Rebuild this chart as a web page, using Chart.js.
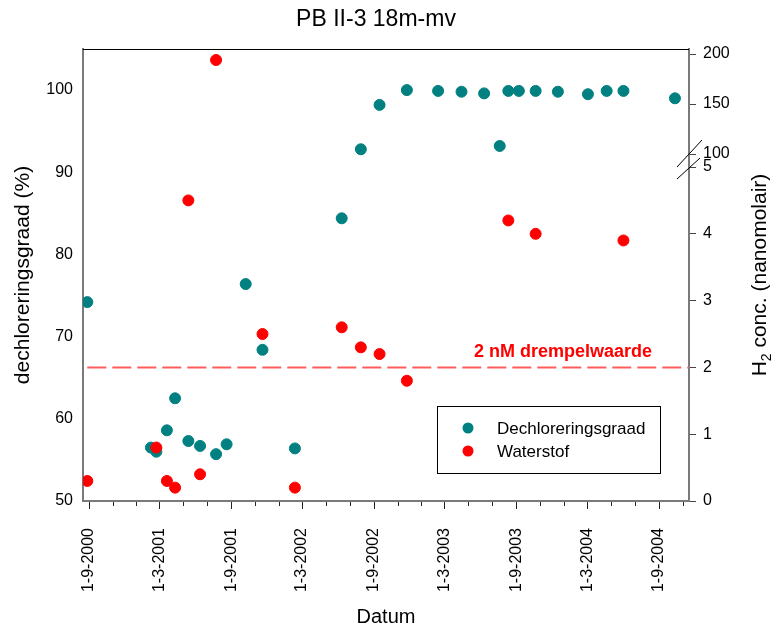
<!DOCTYPE html>
<html>
<head>
<meta charset="utf-8">
<script src="https://cdn.jsdelivr.net/npm/chart.js@4.4.1/dist/chart.umd.min.js"></script>
<style>
  html, body { margin: 0; padding: 0; background: #fff; }
</style>
</head>
<body>
<canvas id="chart" width="772" height="626"></canvas>
<script>
// Dechloreringsgraad (%)
const dechlorDates = [
  '2000-08-28', '2001-02-07', '2001-02-21', '2001-03-20', '2001-04-10', '2001-05-14',
  '2001-06-13', '2001-07-24', '2001-08-20', '2001-10-08', '2001-11-20', '2002-02-11',
  '2002-06-11', '2002-07-30', '2002-09-16', '2002-11-25', '2003-02-13', '2003-04-14',
  '2003-06-11', '2003-07-21', '2003-08-12', '2003-09-08', '2003-10-21', '2003-12-17',
  '2004-03-03', '2004-04-20', '2004-06-02', '2004-10-12'
]
const dechlorValues = [
  74.2, 56.5, 56.0, 58.6, 62.5, 57.3,
  56.7, 55.7, 56.9, 76.4, 68.4, 56.4,
  84.4, 92.8, 98.2, 100.0, 99.9, 99.8,
  99.6, 93.2, 99.9, 99.9, 99.9, 99.8,
  99.5, 99.9, 99.9, 99.0
]

// Waterstof (nM)
const h2Dates = [
  '2000-08-28', '2001-02-21', '2001-03-20', '2001-04-10', '2001-05-14', '2001-06-13',
  '2001-07-24', '2001-11-20', '2002-02-11', '2002-06-11', '2002-07-30', '2002-09-16',
  '2002-11-25', '2003-08-12', '2003-10-21', '2004-06-02'
]
const h2Values = [
  0.3, 0.8, 0.3, 0.2, 4.5, 0.4,
  194, 2.5, 0.2, 2.6, 2.3, 2.2,
  1.8, 4.2, 4.0, 3.9
]

const threshold = 2
const thresholdFrom = '2000-08-28'
const xStart = '2000-08-17'
const xEnd = '2004-11-17'

const pctTicks = [50, 60, 70, 80, 90, 100]
const h2LowTicks = [0, 1, 2, 3, 4, 5]
const h2HighTicks = [100, 150, 200]
const labelMonths = [3, 9]

const TEAL = '#008080'
const RED = '#ff0000'
const FONT = '"Liberation Sans", Arial, sans-serif'

const t = s => Date.parse(s)
const breakValue = h2LowTicks[h2LowTicks.length - 1]

const dechlorPoints = dechlorDates.map((d, i) => ({ x: t(d), y: dechlorValues[i] }))
const h2Low = [], h2High = []
h2Dates.forEach((d, i) => {
  const p = { x: t(d), y: h2Values[i] }
  if (h2Values[i] > breakValue) h2High.push(p)
  else h2Low.push(p)
})

// ticks every two months, labels on march and september
function monthTicks() {
  const ticks = []
  const start = new Date(t(xStart)), end = t(xEnd)
  let y = start.getUTCFullYear(), m = start.getUTCMonth() + 1
  while (true) {
    const v = Date.UTC(y, m, 1)
    if (v > end) break
    if (m % 2 === 0) ticks.push({ value: v })
    m++
    if (m > 11) { m = 0; y++ }
  }
  return ticks
}

const decorations = {
  id: 'decorations',
  afterDraw(chart) {
    const { ctx, chartArea: area, scales } = chart
    const xs = scales.x, low = scales.h2low, high = scales.h2high
    ctx.save()

    // title
    ctx.fillStyle = '#000'
    ctx.font = '23px ' + FONT
    ctx.textAlign = 'center'
    ctx.textBaseline = 'middle'
    ctx.fillText('PB II-3 18m-mv', 376, 20)

    // top frame
    ctx.strokeStyle = '#000'
    ctx.lineWidth = 1
    ctx.beginPath()
    ctx.moveTo(area.left, area.top + 0.5)
    ctx.lineTo(area.right, area.top + 0.5)
    ctx.stroke()

    // x tick marks
    ctx.strokeStyle = '#222'
    xs.ticks.forEach(tk => {
      const px = Math.round(xs.getPixelForValue(tk.value)) + 0.5
      const len = tk.label ? 7 : 4
      ctx.beginPath()
      ctx.moveTo(px, area.bottom + 1)
      ctx.lineTo(px, area.bottom + 1 + len)
      ctx.stroke()
    })

    // axis break marks
    const bx = high.left
    const y1 = high.getPixelForValue(h2HighTicks[0])
    const y2 = low.getPixelForValue(breakValue)
    ctx.strokeStyle = '#000'
    ctx.lineWidth = 1
    ctx.beginPath()
    ctx.moveTo(bx - 12, y1 + 13); ctx.lineTo(bx + 13, y1 - 14)
    ctx.moveTo(bx - 12, y2 + 12); ctx.lineTo(bx + 11, y2 - 9)
    ctx.stroke()

    // threshold label
    ctx.fillStyle = RED
    ctx.font = 'bold 18px ' + FONT
    ctx.textAlign = 'right'
    ctx.textBaseline = 'middle'
    ctx.fillText('2 nM drempelwaarde', area.right - 37, low.getPixelForValue(threshold) - 15)

    // legend
    const lx = area.right - 252, ly = area.bottom - 95
    ctx.strokeStyle = '#000'
    ctx.lineWidth = 1
    ctx.strokeRect(lx + 0.5, ly + 0.5, 223, 67)
    const items = [['Dechloreringsgraad', TEAL], ['Waterstof', RED]]
    ctx.font = '17px ' + FONT
    ctx.textAlign = 'left'
    items.forEach(([label, color], i) => {
      const cy = ly + 22 + i * 23
      ctx.fillStyle = color
      ctx.beginPath()
      ctx.arc(lx + 31, cy, 5.5, 0, Math.PI * 2)
      ctx.fill()
      ctx.fillStyle = '#000'
      ctx.fillText(label, lx + 60, cy + 1)
    })

    // right axis title with subscript
    ctx.translate(760, (area.top + area.bottom) / 2)
    ctx.rotate(-Math.PI / 2)
    ctx.fillStyle = '#000'
    ctx.textBaseline = 'middle'
    const partA = 'H', partC = ' conc. (nanomolair)'
    ctx.font = '14px ' + FONT
    const wSub = ctx.measureText('2').width
    ctx.font = '21px ' + FONT
    const wA = ctx.measureText(partA).width
    const wC = ctx.measureText(partC).width
    const sx = -(wA + wSub + wC) / 2
    ctx.textAlign = 'left'
    ctx.fillText(partA, sx, 0)
    ctx.font = '14px ' + FONT
    ctx.fillText('2', sx + wA, 7)
    ctx.font = '21px ' + FONT
    ctx.fillText(partC, sx + wA + wSub, 0)

    ctx.restore()
  }
}

const axisBorder = { display: true, color: '#7a7a7a', width: 2 }

new Chart(document.getElementById('chart'), {
  type: 'scatter',
  data: {
    datasets: [
      {
        label: 'Waterstof',
        data: h2Low,
        yAxisID: 'h2low',
        backgroundColor: RED,
        borderColor: RED,
        pointRadius: 5.5,
        order: 1
      },
      {
        label: 'Waterstof (hoog)',
        data: h2High,
        yAxisID: 'h2high',
        backgroundColor: RED,
        borderColor: RED,
        pointRadius: 5.5,
        order: 1
      },
      {
        label: 'Dechloreringsgraad',
        data: dechlorPoints,
        yAxisID: 'pct',
        backgroundColor: TEAL,
        borderColor: TEAL,
        pointRadius: 5.5,
        order: 2
      },
      {
        type: 'line',
        label: 'drempelwaarde',
        data: [{ x: t(thresholdFrom), y: threshold }, { x: t(xEnd), y: threshold }],
        yAxisID: 'h2low',
        borderColor: '#ff5c5c',
        borderWidth: 2,
        borderDash: [19, 6],
        pointRadius: 0,
        order: 3
      }
    ]
  },
  options: {
    responsive: false,
    animation: false,
    layout: { padding: { top: 49 } },
    plugins: {
      legend: { display: false },
      tooltip: { enabled: false },
      title: { display: false }
    },
    scales: {
      x: {
        type: 'linear',
        position: 'bottom',
        min: t(xStart),
        max: t(xEnd),
        afterBuildTicks: s => { s.ticks = monthTicks() },
        afterFit: s => { s.height = 125 },
        grid: { display: false, drawTicks: false },
        border: axisBorder,
        ticks: {
          autoSkip: false,
          minRotation: 90,
          maxRotation: 90,
          padding: 27,
          color: '#000',
          font: { family: FONT, size: 16 },
          callback: v => {
            const d = new Date(v)
            const m = d.getUTCMonth() + 1
            return labelMonths.includes(m) ? `${d.getUTCDate()}-${m}-${d.getUTCFullYear()}` : ''
          }
        },
        title: {
          display: true,
          text: 'Datum',
          color: '#000',
          font: { family: FONT, size: 20 },
          padding: { top: 0, bottom: -3 }
        }
      },
      pct: {
        type: 'linear',
        position: 'left',
        min: 50,
        max: 105,
        afterBuildTicks: s => { s.ticks = pctTicks.map(v => ({ value: v })) },
        afterFit: s => { s.width = 83 },
        grid: { display: false, drawTicks: false },
        border: axisBorder,
        ticks: { padding: 10, color: '#000', font: { family: FONT, size: 16 } },
        title: {
          display: true,
          text: 'dechloreringsgraad (%)',
          color: '#000',
          font: { family: FONT, size: 21 },
          padding: { top: 11, bottom: 0 }
        }
      },
      h2high: {
        type: 'linear',
        position: 'right',
        stack: 'h2',
        stackWeight: 118,
        min: 87,
        max: 205,
        afterBuildTicks: s => { s.ticks = h2HighTicks.map(v => ({ value: v })) },
        afterFit: s => { s.width = 83 },
        grid: { display: true, drawOnChartArea: false, drawTicks: true, tickLength: 7, tickColor: '#444' },
        border: axisBorder,
        ticks: { padding: 7, color: '#000', font: { family: FONT, size: 16 } }
      },
      h2low: {
        type: 'linear',
        position: 'right',
        stack: 'h2',
        stackWeight: 334,
        min: 0,
        max: 5,
        afterBuildTicks: s => { s.ticks = h2LowTicks.map(v => ({ value: v })) },
        afterFit: s => { s.width = 83 },
        grid: { display: true, drawOnChartArea: false, drawTicks: true, tickLength: 7, tickColor: '#444' },
        border: axisBorder,
        ticks: { padding: 7, color: '#000', font: { family: FONT, size: 16 } }
      }
    }
  },
  plugins: [decorations]
})
</script>
</body>
</html>
